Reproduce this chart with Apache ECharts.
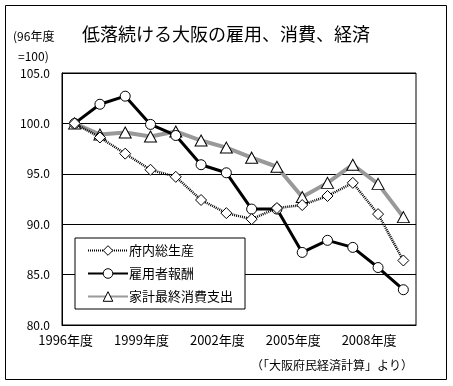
<!DOCTYPE html>
<html><head><meta charset="utf-8">
<script src="https://cdn.jsdelivr.net/npm/echarts@6/dist/echarts.min.js"></script>
<style>html,body{margin:0;padding:0;background:#fff}#c{width:453px;height:386px}</style>
</head><body><div id="c"></div>
<script>
const categories = ['1996年度','1997年度','1998年度','1999年度','2000年度','2001年度','2002年度','2003年度','2004年度','2005年度','2006年度','2007年度','2008年度','2009年度'];
const gdp = [100.0, 98.6, 97.0, 95.4, 94.7, 92.4, 91.1, 90.5, 91.6, 91.9, 92.8, 94.1, 91.0, 86.4];
const wages = [100.0, 101.9, 102.7, 99.9, 98.8, 95.9, 95.1, 91.5, 91.5, 87.2, 88.4, 87.7, 85.7, 83.5];
const consumption = [100.0, 98.9, 99.1, 98.7, 99.2, 98.3, 97.6, 96.6, 95.7, 92.7, 94.1, 95.9, 94.0, 90.7];
const seriesNames = ['府内総生産','雇用者報酬','家計最終消費支出'];
const yTicks = {min: 80, max: 105, interval: 5};

const FONT = '"Noto Sans CJK JP", sans-serif';
const markerStyle = {color: '#fff', borderColor: '#000', borderWidth: 1, borderType: 'solid'};
const chart = echarts.init(document.getElementById('c'), null, {renderer: 'canvas'});
chart.setOption({
  animation: false,
  backgroundColor: '#fff',
  textStyle: {fontFamily: FONT, color: '#000'},
  grid: {left: 62, right: 37, top: 73, bottom: 61, show: true, borderColor: '#000', borderWidth: 1, backgroundColor: 'transparent'},
  graphic: [
    {type: 'rect', shape: {x: 5.5, y: 5.5, width: 441, height: 374}, style: {fill: 'none', stroke: '#000', lineWidth: 1}, silent: true, z: -1},
    {type: 'text', left: 82, top: 25, style: {text: '低落続ける大阪の雇用、消費、経済', font: '18px ' + FONT, fill: '#000'}},
    {type: 'text', left: 13, top: 30, style: {text: '(96年度', font: '12px ' + FONT, fill: '#000'}},
    {type: 'text', left: 18, top: 50, style: {text: '=100)', font: '12px ' + FONT, fill: '#000'}},
    {type: 'text', right: 40, top: 359, style: {text: '（「大阪府民経済計算」より）', font: '12px ' + FONT, fill: '#000'}}
  ],
  legend: {
    data: seriesNames.map(n => ({name: n, itemStyle: markerStyle})),
    orient: 'vertical',
    left: 75, top: 238,
    width: 184,
    backgroundColor: '#fff',
    borderColor: '#000', borderWidth: 1,
    padding: [6, 12, 6, 12],
    itemGap: 10,
    itemWidth: 40, itemHeight: 12,
    textStyle: {fontSize: 13, fontFamily: FONT, color: '#000', padding: [0, 0, 0, -4]}
  },
  xAxis: {
    type: 'category',
    data: categories,
    boundaryGap: true,
    axisLine: {lineStyle: {color: '#000', width: 1}},
    axisTick: {inside: true, length: 4, interval: 0, lineStyle: {color: '#000'}},
    axisLabel: {interval: 2, fontSize: 13, color: '#000', margin: 9, padding: [0, 18, 0, 0], fontFamily: FONT},
    splitLine: {show: false}
  },
  yAxis: {
    type: 'value',
    min: yTicks.min, max: yTicks.max, interval: yTicks.interval,
    axisLine: {show: true, lineStyle: {color: '#000'}},
    axisTick: {show: false},
    axisLabel: {formatter: v => v.toFixed(1), fontSize: 12, color: '#000', margin: 12, fontFamily: FONT},
    splitLine: {show: true, lineStyle: {color: '#000', width: 1}}
  },
  series: [
    {name: seriesNames[2], type: 'line', data: consumption, symbol: 'triangle', symbolSize: [12, 11],
     lineStyle: {color: '#999', width: 4}, itemStyle: markerStyle, z: 2},
    {name: seriesNames[1], type: 'line', data: wages, symbol: 'circle', symbolSize: 10,
     lineStyle: {color: '#000', width: 3}, itemStyle: markerStyle, z: 3},
    {name: seriesNames[0], type: 'line', data: gdp, symbol: 'diamond', symbolSize: 11,
     lineStyle: {color: '#000', width: 2.5, type: [1, 1]}, itemStyle: markerStyle, z: 4}
  ]
});
</script>
</body></html>
